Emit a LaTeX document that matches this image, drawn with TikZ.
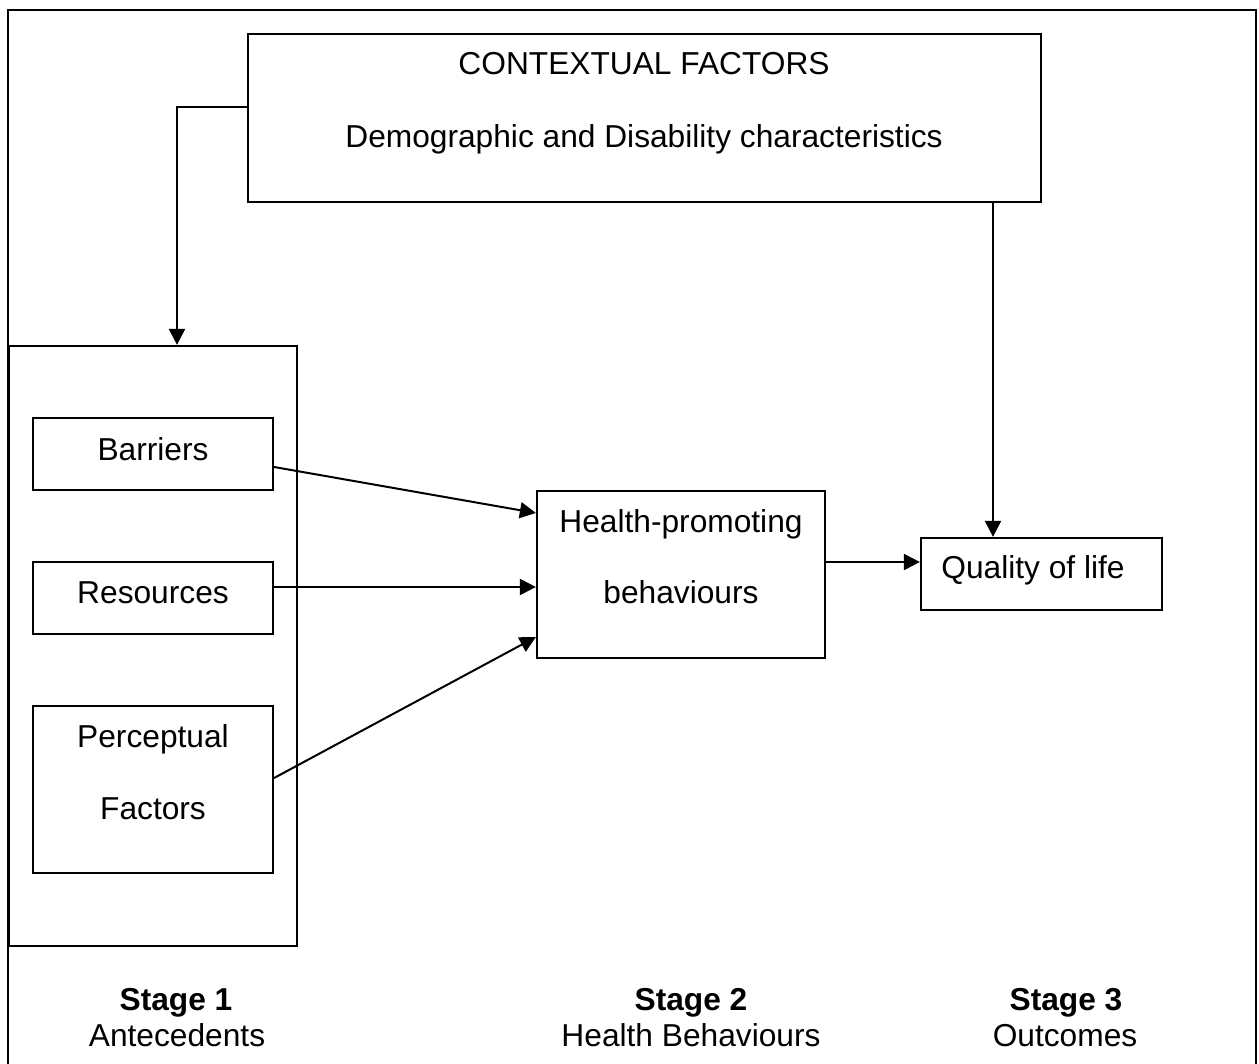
\documentclass[tikz,border=0pt]{standalone}
\usepackage{fontspec}
\setmainfont{Liberation Sans}
\usetikzlibrary{arrows.meta,fit}
\begin{document}
\begin{tikzpicture}[x=0.5pt,y=-0.5pt,
  line width=1.1pt,
  box/.style={draw=black,line width=1.1pt,inner sep=0pt},
  txt/.style={inner sep=0pt,anchor=base,font=\fontsize{15.85pt}{18pt}\selectfont},
  btxt/.style={txt,font=\fontsize{15.85pt}{18pt}\selectfont\bfseries},
  arr/.style={-{Triangle[length=8pt,width=8pt]},line width=1pt}]
\useasboundingbox (0,0) rectangle (1259,1064);
\fill[white] (0,0) rectangle (1259,1064);
% outer frame (open at bottom)
\draw[line width=1.1pt] (8,1064) -- (8,10) -- (1256,10) -- (1256,1064);
% boxes
\node[box,fit={(248,34)(1041,202)}] (ctx) {};
\node[box,fit={(9,346)(297,946)}] (ante) {};
\node[box,fit={(33,418)(273,490)}] (bar) {};
\node[box,fit={(33,562)(273,634)}] (res) {};
\node[box,fit={(33,706)(273,873)}] (per) {};
\node[box,fit={(537,491)(825,658)}] (hp) {};
\node[box,fit={(921,538)(1162,610)}] (qol) {};
% texts
\node[txt] (ctx-t1) at (644,75) {CONTEXTUAL FACTORS};
\node[txt] (ctx-t2) at (644,148) {Demographic and Disability characteristics};
\node[txt] (bar-t) at (153,460) {Barriers};
\node[txt] (res-t) at (153,603) {Resources};
\node[txt] (per-t1) at (153,747) {Perceptual};
\node[txt] (per-t2) at (153,819) {Factors};
\node[txt] (hp-t1) at (681,532) {Health-promoting};
\node[txt] (hp-t2) at (681,603) {behaviours};
\node[txt] (qol-t) at (1033,578) {Quality of life};
\node[btxt] (s1) at (176,1010) {Stage 1};
\node[txt] (s1b) at (177,1046) {Antecedents};
\node[btxt] (s2) at (691,1010) {Stage 2};
\node[txt] (s2b) at (691,1046) {Health Behaviours};
\node[btxt] (s3) at (1066,1010) {Stage 3};
\node[txt] (s3b) at (1065,1046) {Outcomes};
% helper coordinates
\coordinate (yc) at (0,107);
\coordinate (xa) at (177,0);
\coordinate (xq) at (993,0);
\coordinate (yb1) at (0,467);
\coordinate (yb2) at (0,513);
\coordinate (yr) at (0,587);
\coordinate (yp1) at (0,778);
\coordinate (yp2) at (0,637);
\coordinate (yq) at (0,562);
% connectors
\draw[arr] (ctx.west |- yc) -| (ante.north -| xa);
\draw[arr] (ctx.south -| xq) -- (qol.north -| xq);
\draw[arr] (bar.east |- yb1) -- (hp.west |- yb2);
\draw[arr] (res.east |- yr) -- (hp.west |- yr);
\draw[arr] (per.east |- yp1) -- (hp.west |- yp2);
\draw[arr] (hp.east |- yq) -- (qol.west |- yq);
\end{tikzpicture}
\end{document}
